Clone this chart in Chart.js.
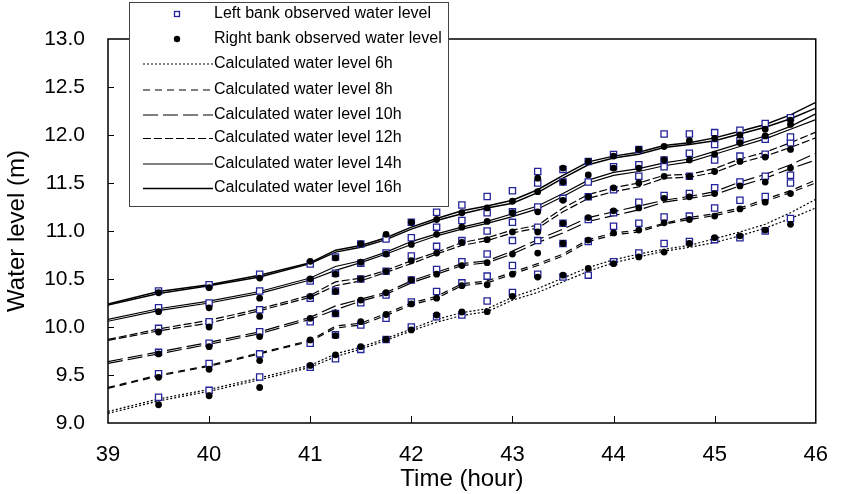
<!DOCTYPE html>
<html><head><meta charset="utf-8">
<script src="https://cdn.jsdelivr.net/npm/chart.js@4/dist/chart.umd.min.js"></script>
<style>html,body{margin:0;padding:0;background:#fff;}canvas{display:block;}</style>
</head><body>
<canvas id="c" width="847" height="494"></canvas>
<script>
// ---- data ----
const obsX = [39.5,40,40.5,41,41.25,41.5,41.75,42,42.25,42.5,42.75,43,43.25,43.5,43.75,44,44.25,44.5,44.75,45,45.25,45.5,45.75];
const lineX = [39,39.5,40,40.5,41,41.25,41.5,41.75,42,42.25,42.5,42.75,43,43.25,43.5,43.75,44,44.25,44.5,44.75,45,45.25,45.5,45.75,46];
const xTicks = [39,40,41,42,43,44,45,46];
const yTicks = [9.0,9.5,10.0,10.5,11.0,11.5,12.0,12.5,13.0];

// observed (left bank = squares, right bank = circles), groups from top to bottom
const left16  = [10.375,10.44,10.55,10.656,10.73,10.865,10.917,11.09,11.195,11.27,11.36,11.42,11.62,11.64,11.725,11.796,11.85,12.01,12.01,12.025,12.05,12.12,12.18];
const right16 = [10.357,10.41,10.51,10.684,10.72,10.865,10.965,11.09,11.12,11.19,11.24,11.31,11.55,11.655,11.725,11.78,11.85,11.88,11.94,11.965,12.0,12.06,12.155];
const left14  = [10.20,10.25,10.375,10.48,10.56,10.665,10.77,10.93,11.04,11.11,11.19,11.20,11.50,11.51,11.51,11.67,11.69,11.74,11.81,11.90,11.94,11.955,11.98];
const right14 = [10.16,10.20,10.30,10.50,10.55,10.675,10.76,10.86,10.965,11.04,11.10,11.19,11.41,11.51,11.584,11.655,11.655,11.74,11.74,11.80,11.92,11.99,12.11];
const left12  = [9.986,10.055,10.18,10.30,10.375,10.50,10.58,10.74,10.84,10.90,11.0,11.09,11.25,11.34,11.356,11.43,11.57,11.67,11.57,11.74,11.78,11.80,11.92];
const right12 = [9.948,10.00,10.11,10.32,10.37,10.50,10.58,10.69,10.77,10.88,10.91,10.99,11.20,11.32,11.356,11.45,11.50,11.57,11.57,11.62,11.725,11.77,11.85];
const left10  = [9.736,9.83,9.95,10.055,10.14,10.253,10.333,10.49,10.60,10.68,10.76,10.90,11.04,11.08,11.12,11.19,11.30,11.37,11.39,11.45,11.51,11.57,11.58];
const right10 = [9.72,9.795,9.90,10.09,10.14,10.28,10.357,10.49,10.55,10.64,10.67,10.76,10.99,11.08,11.14,11.21,11.24,11.34,11.356,11.39,11.47,11.51,11.655];
const left8   = [9.514,9.62,9.72,9.83,9.92,10.02,10.09,10.26,10.37,10.46,10.53,10.64,10.90,10.87,10.89,11.05,11.08,11.145,11.155,11.24,11.32,11.36,11.50];
const right8  = [9.476,9.56,9.65,9.865,9.91,10.055,10.13,10.24,10.30,10.43,10.44,10.55,10.77,10.87,10.905,10.98,11.01,11.085,11.12,11.155,11.23,11.30,11.39];
const left6   = [9.268,9.34,9.48,9.58,9.67,9.767,9.87,10.0,10.107,10.125,10.27,10.36,10.55,10.52,10.54,10.68,10.77,10.87,10.89,10.91,10.93,11.0,11.13];
const right6  = [9.19,9.284,9.37,9.60,9.71,9.795,9.87,9.97,10.125,10.156,10.16,10.32,10.52,10.54,10.61,10.66,10.73,10.78,10.87,10.93,10.95,11.01,11.07];

// calculated (two bank lines per time)
const calc16a = [10.24,10.37,10.44,10.54,10.67,10.80,10.85,10.93,11.04,11.13,11.21,11.26,11.32,11.43,11.58,11.72,11.78,11.82,11.89,11.92,11.97,12.04,12.11,12.21,12.34];
const calc16b = [10.23,10.35,10.43,10.52,10.66,10.78,10.83,10.91,11.02,11.11,11.18,11.24,11.29,11.40,11.55,11.69,11.76,11.80,11.87,11.90,11.94,12.01,12.08,12.17,12.28];
const calc14a = [10.08,10.19,10.27,10.37,10.51,10.63,10.69,10.78,10.89,10.97,11.04,11.10,11.18,11.26,11.39,11.53,11.61,11.65,11.71,11.75,11.83,11.91,11.99,12.09,12.22];
const calc14b = [10.06,10.17,10.25,10.35,10.49,10.59,10.67,10.76,10.86,10.95,11.02,11.08,11.15,11.23,11.36,11.50,11.58,11.62,11.68,11.72,11.80,11.88,11.96,12.06,12.16];
const calc12a = [9.87,9.98,10.07,10.19,10.33,10.47,10.51,10.59,10.69,10.78,10.88,10.93,11.01,11.06,11.24,11.38,11.45,11.50,11.58,11.59,11.65,11.75,11.82,11.92,12.03];
const calc12b = [9.86,9.96,10.04,10.17,10.31,10.43,10.48,10.57,10.66,10.76,10.85,10.90,10.98,11.03,11.20,11.34,11.41,11.46,11.55,11.56,11.61,11.71,11.78,11.87,11.97];
const calc10a = [9.64,9.74,9.84,9.95,10.10,10.22,10.29,10.36,10.48,10.57,10.66,10.69,10.79,10.91,11.02,11.14,11.20,11.26,11.32,11.36,11.41,11.51,11.59,11.69,11.81];
const calc10b = [9.62,9.72,9.82,9.93,10.08,10.18,10.27,10.34,10.46,10.55,10.64,10.67,10.76,10.88,10.98,11.10,11.16,11.22,11.30,11.34,11.38,11.47,11.55,11.65,11.74];
const calc8a  = [9.37,9.50,9.60,9.73,9.86,10.01,10.04,10.14,10.25,10.32,10.45,10.48,10.57,10.66,10.76,10.91,10.98,11.01,11.08,11.14,11.18,11.24,11.33,11.42,11.53];
const calc8b  = [9.36,9.49,9.59,9.72,9.85,9.99,10.02,10.12,10.23,10.30,10.43,10.46,10.55,10.64,10.74,10.89,10.96,10.99,11.07,11.12,11.16,11.22,11.31,11.40,11.50];
const calc6a  = [9.12,9.25,9.35,9.47,9.60,9.72,9.79,9.88,9.98,10.08,10.15,10.19,10.31,10.40,10.51,10.62,10.70,10.76,10.81,10.85,10.92,10.99,11.07,11.19,11.33];
const calc6b  = [9.10,9.23,9.33,9.45,9.58,9.69,9.77,9.86,9.96,10.05,10.12,10.16,10.28,10.36,10.47,10.58,10.67,10.73,10.79,10.83,10.88,10.95,11.03,11.13,11.24];

const legendLabels = ['Left bank observed water level','Right bank observed water level',
  'Calculated water level 6h','Calculated water level 8h','Calculated water level 10h',
  'Calculated water level 12h','Calculated water level 14h','Calculated water level 16h'];

// ---- styles ----
const FONT = '"Liberation Sans", Arial, sans-serif';
const SQ_COLOR = '#23239a';
const dashes = {6:[2,2],8:[7,5],10:[15,5],12:[8,3],14:[],16:[]};
const widths = {6:1.2,8:1.2,10:1.2,12:1.2,14:1.2,16:1.5};

const pts = (xs, ys) => xs.map((x,i)=>({x, y: ys[i]}));
const leftAll = [left6,left8,left10,left12,left14,left16];
const rightAll = [right6,right8,right10,right12,right14,right16];
const calcPairs = {6:[calc6a,calc6b],8:[calc8a,calc8b],10:[calc10a,calc10b],12:[calc12a,calc12b],14:[calc14a,calc14b],16:[calc16a,calc16b]};

const datasets = [];
datasets.push({label:legendLabels[0], data:[].concat(...leftAll.map(a=>pts(obsX,a))), showLine:false,
  pointStyle:'rect', pointRadius:4.4, pointBorderWidth:1.3, pointBorderColor:SQ_COLOR, pointBackgroundColor:'#fff', order:1});
datasets.push({label:legendLabels[1], data:[].concat(...rightAll.map(a=>pts(obsX,a))), showLine:false,
  pointStyle:'circle', pointRadius:3.4, pointBorderWidth:0, pointBackgroundColor:'#000', pointBorderColor:'#000', order:0});
[6,8,10,12,14,16].forEach((h,k)=>{
  calcPairs[h].forEach(arr=>{
    datasets.push({label:legendLabels[2+k], data:pts(lineX,arr), showLine:true, fill:false,
      borderColor:'#000', borderWidth:widths[h], borderDash:dashes[h], pointRadius:0, tension:0, order:2});
  });
});

// ---- plugins ----
const framePlugin = {
  id:'frame',
  afterDatasetsDraw(chart){
    const {ctx, chartArea:a, scales:{x,y}} = chart;
    ctx.save();
    ctx.strokeStyle='#000'; ctx.lineWidth=1.5; ctx.setLineDash([]);
    ctx.strokeRect(a.left, a.top, a.right-a.left, a.bottom-a.top);
    ctx.lineWidth=1;
    ctx.beginPath();
    xTicks.slice(1,-1).forEach(v=>{const px=Math.round(x.getPixelForValue(v))+0.5; ctx.moveTo(px,a.bottom); ctx.lineTo(px,a.bottom-7);});
    yTicks.slice(1,-1).forEach(v=>{const py=Math.round(y.getPixelForValue(v))+0.5; ctx.moveTo(a.left,py); ctx.lineTo(a.left+6,py);});
    ctx.stroke();
    ctx.restore();
  },
  afterDraw(chart){
    const ctx = chart.ctx;
    const bx=129.5, by=2.5, bw=319, bh=204;
    ctx.save();
    ctx.fillStyle='#fff'; ctx.fillRect(bx,by,bw,bh);
    ctx.strokeStyle='#444'; ctx.lineWidth=1; ctx.setLineDash([]);
    ctx.strokeRect(bx,by,bw,bh);
    const rowY=[14,39,63.5,89.5,114.5,138,163.5,188];
    ctx.font='16px '+FONT; ctx.fillStyle='#000'; ctx.textBaseline='middle'; ctx.textAlign='left';
    legendLabels.forEach((t,i)=>{
      const yy=rowY[i];
      if(i===0){ ctx.strokeStyle=SQ_COLOR; ctx.lineWidth=1.3; ctx.fillStyle='#fff'; ctx.fillRect(174.5,yy-2.5,5,5); ctx.strokeRect(174.5,yy-2.5,5,5); }
      else if(i===1){ ctx.fillStyle='#000'; ctx.beginPath(); ctx.arc(177,yy,3.2,0,Math.PI*2); ctx.fill(); }
      else { const h=[6,8,10,12,14,16][i-2]; ctx.strokeStyle='#000'; ctx.lineWidth=widths[h]; ctx.setLineDash(dashes[h]);
        ctx.beginPath(); ctx.moveTo(143,yy+0.5); ctx.lineTo(213,yy+0.5); ctx.stroke(); ctx.setLineDash([]); }
      ctx.fillStyle='#000';
      ctx.fillText(t,214,yy);
    });
    ctx.restore();
  }
};

new Chart(document.getElementById('c'), {
  type:'scatter',
  data:{datasets},
  options:{
    responsive:false, animation:false, events:[],
    layout:{padding:{top:39,right:13,left:0,bottom:0}},
    plugins:{legend:{display:false}, tooltip:{enabled:false}},
    scales:{
      x:{type:'linear', min:39, max:46,
        grid:{display:false, drawTicks:false}, border:{display:false},
        afterBuildTicks(s){ s.ticks = xTicks.map(v=>({value:v})); },
        ticks:{font:{family:FONT,size:22}, color:'#000', padding:19, maxRotation:0, callback:v=>String(v)},
        title:{display:true, text:'Time (hour)', font:{family:FONT,size:24}, color:'#000', padding:{top:0,bottom:0}},
        afterFit(s){ s.height=71; }
      },
      y:{type:'linear', min:9, max:13,
        grid:{display:false, drawTicks:false}, border:{display:false},
        afterBuildTicks(s){ s.ticks = yTicks.map(v=>({value:v})); },
        ticks:{font:{family:FONT,size:21}, color:'#000', padding:23, callback:v=>Number(v).toFixed(1)},
        title:{display:true, text:'Water level (m)', font:{family:FONT,size:24}, color:'#000', padding:{top:3,bottom:0}},
        afterFit(s){ s.width=108; }
      }
    }
  },
  plugins:[framePlugin]
});
</script>
</body></html>
